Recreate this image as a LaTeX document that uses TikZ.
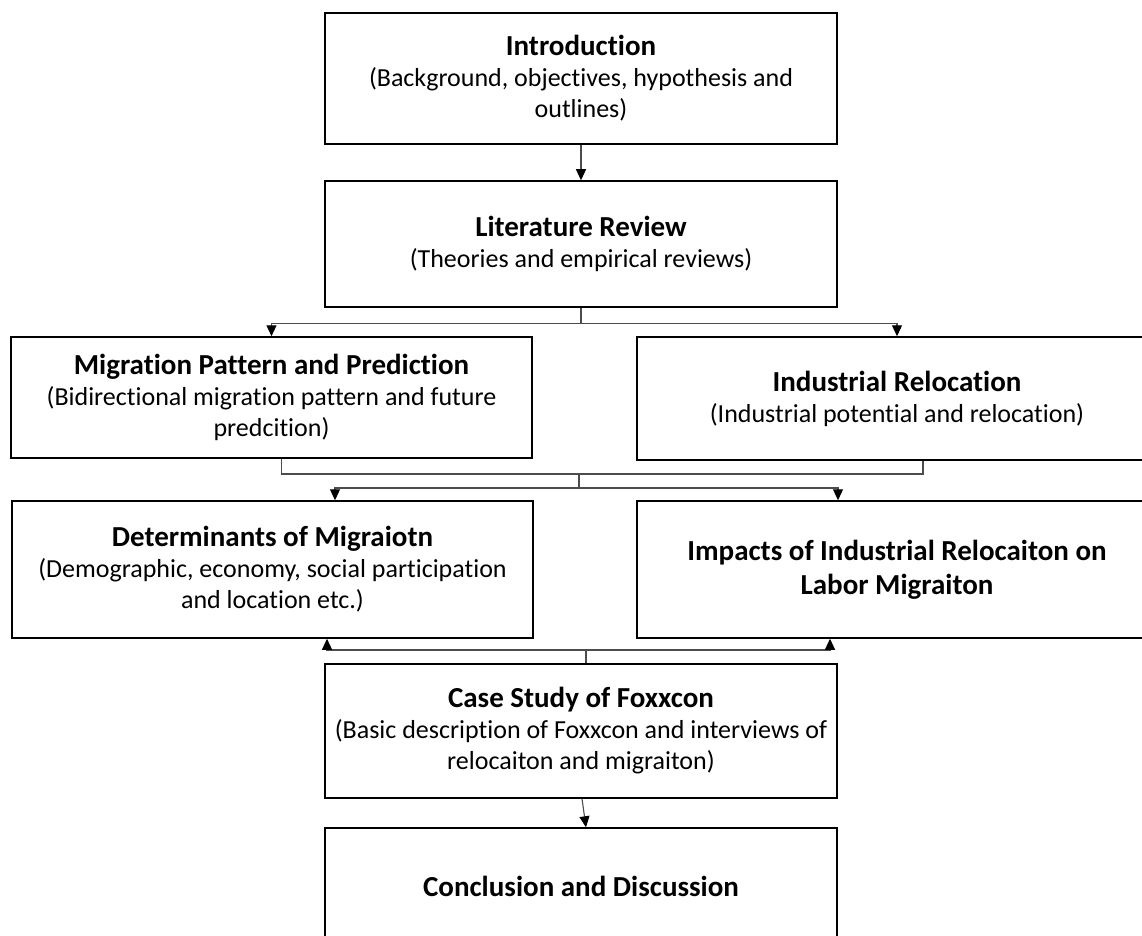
\documentclass[tikz,border=0pt]{standalone}
\usepackage{fontspec}
\setmainfont{Carlito}[Ligatures=NoCommon]
\usetikzlibrary{arrows.meta, positioning}
\newcommand{\hd}[1]{{\fontsize{29}{34}\selectfont\bfseries #1}}

\begin{document}
\begin{tikzpicture}[x=1pt, y=-1pt,
  box/.style={draw, line width=1.5pt, inner sep=0pt, align=center,
    font=\fontsize{26}{31}\selectfont},
  link/.style={draw=black!70, line width=1.1pt},
  arr/.style={link, -{Triangle[width=10pt,length=11pt,color=black]}}]
  \useasboundingbox (0,0) rectangle (1142,936);
  \clip (0,0) rectangle (1142,936);

  \node[box, minimum width=512pt, minimum height=131pt] (intro) at (581,78.5)
    {\hd{Introduction}\\(Background, objectives, hypothesis and\\outlines)};
  \node[box, minimum width=512pt, minimum height=126pt] (litrev) at (581,244)
    {\hd{Literature Review}\\(Theories and empirical reviews)};

  \node[box, minimum width=521pt, minimum height=121pt] (migr) at (271.5,397.5)
    {\hd{Migration Pattern and Prediction}\\(Bidirectional migration pattern and future\\predcition)};
  \node[box, minimum width=520pt, minimum height=123pt] (indus) at (897,398.5)
    {\hd{Industrial Relocation}\\(Industrial potential and relocation)};

  \node[box, minimum width=521pt, minimum height=137pt] (determ) at (272.5,569.5)
    {\hd{Determinants of Migraiotn}\\(Demographic, economy, social participation\\and location etc.)};
  \node[box, minimum width=520pt, minimum height=137pt,
    font=\fontsize{29}{34}\selectfont\bfseries] (impact) at (897,569.5)
    {Impacts of Industrial Relocaiton on\\Labor Migraiton};

  \node[box, minimum width=512pt, minimum height=134pt] (case) at (581,731)
    {\hd{Case Study of Foxxcon}\\(Basic description of Foxxcon and interviews of\\relocaiton and migraiton)};
  \node[box, minimum width=512pt, minimum height=116pt] (concl) at (581,886)
    {\hd{Conclusion and Discussion}};

  \draw[arr] (intro) -- (litrev);

  \coordinate (j1) at ([yshift=-16pt]litrev.south);
  \draw[arr] (litrev.south) -- (j1) -| (migr.north);
  \draw[arr] (j1) -| (indus.north);

  \coordinate (j2) at (579,474);
  \coordinate (j3) at (579,488);
  \draw[link] ([xshift=10pt]migr.south) |- (j2) -| ([xshift=26pt]indus.south);
  \draw[link] (j2) -- (j3);
  \draw[arr] (j3) -| ([xshift=62.5pt]determ.north);
  \draw[arr] (j3) -| ([xshift=-59pt]impact.north);

  \coordinate (j4) at (586,650);
  \draw[link] (case.north -| j4) -- (j4);
  \draw[arr] (j4) -| ([xshift=54.5pt]determ.south);
  \draw[arr] (j4) -| ([xshift=-67pt]impact.south);

  \draw[arr] ([xshift=1pt]case.south) -- ([xshift=5pt]concl.north);
\end{tikzpicture}
\end{document}
